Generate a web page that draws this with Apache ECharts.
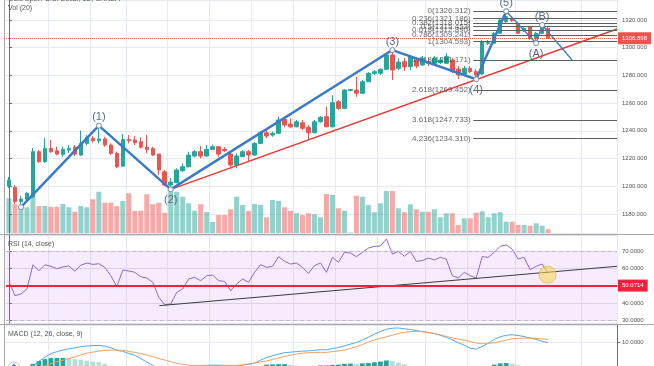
<!DOCTYPE html>
<html><head><meta charset="utf-8">
<script src="https://cdn.jsdelivr.net/npm/echarts@6/dist/echarts.min.js"></script>
<style>html,body{margin:0;padding:0;background:#fff}#c{width:654px;height:366px}</style>
</head><body><div id="c"></div>
<script>
// ---------- data ----------
const N_SLOTS = 102; // 91 daily bars + empty space on the right
const opens = [1200.1,1199.1,1188.8,1190.5,1192.4,1224.9,1217.7,1227.3,1225.6,1223.0,
1226.1,1228.1,1222.5,1230.9,1234.6,1232.8,1234.1,1229.7,1223.7,1214.5,
1233.8,1233.3,1232.1,1228.1,1227.3,1223.2,1210.4,1200.8,1202.5,1211.1,
1214.0,1221.8,1224.9,1221.8,1226.6,1228.5,1226.5,1223.2,1215.3,1221.3,
1224.9,1222.5,1230.9,1238.6,1236.9,1238.2,1248.3,1244.9,1242.9,1245.8,
1242.5,1238.6,1246.5,1250.2,1242.9,1261.0,1256.2,1269.1,1269.4,1267.1,
1275.4,1281.5,1281.5,1284.4,1294.7,1285.1,1289.9,1286.3,1291.1,1287.5,
1289.9,1288.7,1289.2,1288.7,1291.1,1284.6,1281.0,1285.1,1282.7,1281.0,
1303.0,1303.2,1310.4,1318.8,1321.2,1317.6,1312.3,1315.2,1306.8,1310.4,1314.0];
const closes = [1204.4,1188.8,1190.7,1194.8,1224.9,1217.7,1227.3,1224.9,1223.2,1226.6,
1227.3,1223.2,1230.9,1235.3,1232.8,1234.1,1229.7,1223.7,1214.0,1233.8,
1232.8,1231.4,1228.1,1226.6,1222.5,1211.7,1200.8,1203.0,1211.7,1214.0,
1222.5,1224.9,1221.8,1226.6,1228.5,1223.2,1225.7,1215.3,1221.8,1224.9,
1222.5,1230.9,1238.6,1236.2,1238.2,1247.8,1244.2,1242.9,1246.5,1241.8,
1238.6,1246.5,1249.7,1242.9,1260.3,1256.2,1269.4,1269.8,1267.1,1275.4,
1281.5,1282.7,1284.4,1294.7,1283.9,1289.7,1286.1,1293.5,1286.8,1292.3,
1288.7,1292.3,1291.1,1293.5,1282.7,1280.3,1285.1,1282.7,1280.3,1304.1,
1303.8,1310.4,1320.0,1322.4,1319.5,1310.4,1314.0,1306.8,1310.4,1315.7,1306.898];
const lows = [1198.6,1187.1,1185.0,1190.0,1191.4,1216.9,1216.9,1224.0,1222.3,1221.3,
1224.2,1221.8,1221.8,1229.7,1231.4,1230.9,1228.5,1222.5,1212.9,1214.0,
1230.9,1229.7,1227.3,1223.7,1221.8,1208.0,1200.1,1197.7,1202.1,1210.4,
1213.6,1220.8,1220.1,1221.3,1226.1,1221.3,1224.7,1214.0,1212.9,1221.1,
1217.7,1221.8,1230.4,1234.6,1235.7,1237.7,1242.5,1241.8,1242.5,1240.6,
1233.8,1238.2,1245.8,1242.5,1242.5,1255.0,1255.7,1268.7,1264.6,1266.6,
1275.2,1280.3,1280.3,1283.9,1276.7,1283.9,1283.2,1283.9,1285.3,1286.8,
1286.8,1287.5,1288.2,1288.2,1281.7,1277.4,1280.3,1281.7,1277.2,1280.3,
1302.0,1302.7,1309.9,1317.8,1318.6,1309.9,1311.3,1305.6,1303.2,1309.9,1306.3];
const highs = [1206.6,1200.8,1192.9,1196.0,1227.6,1226.1,1234.8,1233.3,1228.5,1228.5,
1229.7,1229.7,1240.1,1236.9,1236.2,1243.7,1235.7,1230.9,1224.9,1237.7,
1236.9,1236.2,1235.3,1236.9,1228.5,1223.7,1211.7,1205.9,1212.9,1216.5,
1224.9,1226.1,1229.0,1229.7,1230.1,1229.0,1228.3,1224.9,1223.7,1226.1,
1226.1,1231.9,1239.8,1240.6,1239.3,1250.2,1250.2,1249.0,1247.8,1247.8,
1244.2,1247.8,1250.7,1257.4,1265.8,1262.2,1270.2,1270.2,1279.0,1276.7,
1282.4,1283.9,1285.3,1295.9,1298.3,1292.6,1292.6,1294.7,1293.3,1294.0,
1292.6,1294.0,1292.6,1296.2,1292.6,1286.8,1286.8,1286.8,1284.6,1305.6,
1305.6,1311.3,1321.4,1326.3,1322.9,1318.6,1314.9,1315.7,1311.3,1316.4,1314.9];
// volume, thousands
const volumes = [139,115,103,103,145,108,108,105,105,116,103,85,108,103,135,165,121,121,108,128,
159,88,89,155,115,121,81,175,165,145,119,89,115,84,44,72,72,95,145,112,
88,116,112,63,132,128,103,89,79,72,79,75,63,156,152,99,89,2,149,145,
112,83,119,168,168,99,83,115,95,85,85,95,63,79,79,32,59,59,81,87,
63,79,83,45,45,32,32,29,39,29,15];
const rsi = [52.5,44.2,45.2,48.1,62.2,58.7,62.2,61.3,59.9,60.9,61.5,58.4,62.0,63.2,62.4,62.8,60.7,55.8,49.4,59.1,
58.6,57.8,55.2,54.5,52.0,43.2,39.0,39.4,46.1,48.1,53.9,54.9,52.9,55.8,56.2,52.9,52.5,47.1,51.0,53.9,
52.0,57.8,62.2,60.7,61.3,66.9,64.2,62.6,63.2,60.7,57.2,61.7,63.2,57.8,66.5,63.6,69.4,69.0,66.9,69.4,
71.9,72.9,73.1,77.2,68.4,70.0,67.1,70.0,64.2,64.6,66.1,65.0,66.5,65.5,55.8,54.5,57.8,55.8,54.5,66.9,
66.5,69.4,72.9,73.7,71.3,65.5,66.5,59.3,61.3,62.6,57.2];
const macdLine = [-1.5,-1.8,-1.6,-1.2,0.8,2.6,4.2,5.5,6.3,6.9,7.4,7.7,8.2,8.5,8.6,8.7,8.4,7.8,6.8,6.4,
5.6,4.9,3.6,2.3,0.9,0.2,-0.5,-0.9,-0.8,-0.4,0.2,0.6,0.8,1.0,1.1,1.1,1.0,0.9,0.9,1.1,
1.4,1.9,3.0,4.0,4.7,5.4,5.9,6.1,6.3,6.5,6.6,6.8,7.0,7.0,7.5,7.9,8.5,9.2,9.8,10.8,
11.9,13.0,14.0,14.9,15.3,15.4,15.1,14.8,14.4,14.0,13.6,13.2,12.6,11.8,10.8,9.7,8.8,7.6,7.3,8.3,
9.5,11.0,12.0,12.6,12.8,12.5,12.1,11.5,11.0,10.3,9.7];
const signalLine = [-1.0,-1.1,-1.2,-1.2,-0.8,-0.1,0.8,1.7,2.4,3.0,3.6,4.3,5.0,5.7,6.1,6.5,6.8,6.9,6.9,6.8,
6.4,6.0,5.6,5.0,4.4,3.6,3.1,2.4,1.8,1.4,1.1,1.0,1.0,1.0,1.0,1.0,1.0,1.0,1.0,1.2,
1.6,1.9,2.3,2.7,3.3,3.9,4.4,4.9,5.4,5.7,5.9,6.0,6.0,6.0,6.3,6.6,6.9,7.5,8.2,9.0,
10.0,10.8,11.5,12.0,12.6,13.3,13.7,14.0,14.1,14.0,13.7,13.3,12.8,12.1,11.6,11.1,10.7,10.2,9.6,9.3,
9.4,9.7,10.2,10.7,11.2,11.4,11.5,11.5,11.4,11.2,11.0];
// Elliott waves (bar index, price)
const waveIdx = [2, 15, 27, 64, 78, 83];
const waveVal = [1184.9, 1243.7, 1197.7, 1298.3, 1277.2, 1326.3];
const waveNames = ['', '(1)', '(2)', '(3)', '(4)', '(5)'];
const corrIdx = [83, 88, 89, 94];
const corrVal = [1326.3, 1303.2, 1316.4, 1291.1];
const corrNames = ['', '(A)', '(B)', '(C)'];
// Fibonacci retracement
const fibRatios = [0, 0.236, 0.382, 0.5, 0.618, 0.786, 1, 1.618, 2.618, 3.618, 4.236];
const fibPrices = [1326.312, 1321.186, 1318.015, 1315.453, 1312.890, 1309.241, 1304.593, 1291.171, 1269.452, 1247.733, 1234.310];
const fibFrom = 77.5, fibTo = 101.5;
// trend lines
const priceTrendX = [27, 101.5], priceTrendY = [1197.7, 1313.5];
const rsiTrendX = [25.1, 101.5], rsiTrendY = [38.4, 61.3];
const lastPrice = 1306.898;
const rsiLevel = 50.0714;
const rsiHighlight = [89.9, 56.4];
const gridBars = [7, 14, 20, 27, 34, 41, 48, 55, 62, 70, 77, 85, 96];

// ---------- build ----------
const UP = '#26a69a', DOWN = '#ef5350';
const slots = Array.from({length: N_SLOTS}, (_, i) => String(i));
const candleData = opens.map((o, i) => [o, closes[i], lows[i], highs[i]]);
const volData = volumes.map((v, i) => ({value: v, itemStyle: {color: closes[i] >= opens[i] ? 'rgba(38,166,154,0.5)' : 'rgba(239,83,80,0.5)'}}));
const hist = macdLine.map((m, i) => +(m - signalLine[i]).toFixed(2));
const histData = hist.map((h, i) => {
  const prev = i ? hist[i - 1] : 0;
  const c = h >= 0 ? (h >= prev ? '#26a69a' : '#b2dfdb') : (h <= prev ? '#ef5350' : '#ffcdd2');
  return {value: h, itemStyle: {color: c}};
});
function waveItems(idx, vals, names, lastNoSymbol) {
  return idx.map((x, i) => {
    const up = i > 0 && vals[i] > vals[i - 1];
    const it = {value: [x, vals[i]], label: {show: names[i] !== '', formatter: names[i], position: up ? 'top' : 'bottom', distance: up ? 0 : 2}};
    if (lastNoSymbol && i === idx.length - 1) it.symbol = 'none';
    return it;
  });
}
const FONT = 'Liberation Sans';
const GRID_C = '#e5e9f0';
const gridLine = {show: true, interval: (i) => gridBars.indexOf(i) >= 0, lineStyle: {color: GRID_C, width: 1}};
const catAxis = (g) => ({type: 'category', gridIndex: g, data: slots, boundaryGap: true, axisLabel: {show: false}, axisTick: {show: false}, axisLine: {show: false}, splitLine: gridLine});
const valX = (g) => ({type: 'value', gridIndex: g, min: -0.5, max: N_SLOTS - 0.5, show: false});
const axisTxt = {fontSize: 6, color: '#555', fontFamily: FONT, margin: 5, showMinLabel: false, showMaxLabel: false};
const yLine = {show: true, lineStyle: {color: '#6b6b6b', width: 1}};
const yTick = {show: true, length: 3, lineStyle: {color: '#6b6b6b'}};

const option = {
  animation: false,
  backgroundColor: '#ffffff',
  grid: [
    {left: 6, right: 37, top: 0, height: 233},
    {left: 6, right: 37, top: 235, height: 88},
    {left: 6, right: 37, top: 325, height: 41}
  ],
  xAxis: [catAxis(0), valX(0), catAxis(1), valX(1), catAxis(2)],
  yAxis: [
    {type: 'value', gridIndex: 0, position: 'right', min: 1166.2, max: 1334.45, splitNumber: 8,
     axisLabel: Object.assign({}, axisTxt, {formatter: v => v.toFixed(3)}), axisLine: yLine, axisTick: yTick,
     splitLine: {show: true, lineStyle: {color: GRID_C}}},
    {type: 'value', gridIndex: 0, min: 0, max: 932, show: false},
    {type: 'value', gridIndex: 1, position: 'right', min: 28.3, max: 79.5, splitNumber: 5,
     axisLabel: Object.assign({}, axisTxt, {formatter: v => Math.abs(v - 50) < 1e-6 ? '' : v.toFixed(4)}), axisLine: yLine, axisTick: yTick,
     splitLine: {show: true, lineStyle: {color: '#e6ddf0'}}},
    {type: 'value', gridIndex: 2, position: 'right', min: 0.77, max: 16.54, splitNumber: 2,
     axisLabel: Object.assign({}, axisTxt, {formatter: v => v.toFixed(4)}), axisLine: yLine, axisTick: yTick,
     splitLine: {show: true, lineStyle: {color: GRID_C}}}
  ],
  series: [
    {type: 'bar', xAxisIndex: 0, yAxisIndex: 1, data: volData, barWidth: '84%', z: 1, silent: true},
    {type: 'candlestick', xAxisIndex: 0, yAxisIndex: 0, data: candleData, barWidth: 4, z: 3,
     itemStyle: {color: UP, color0: DOWN, borderColor: UP, borderColor0: DOWN, borderWidth: 1},
     markLine: {silent: true, symbol: ['none', 'none'], data: [{yAxis: lastPrice}],
       lineStyle: {color: '#ef5350', type: 'dotted', width: 1},
       label: {show: true, position: 'end', formatter: lastPrice.toFixed(3), color: '#fff', backgroundColor: '#ef5350', fontSize: 6, fontFamily: FONT, padding: [3, 4], distance: 1}}},
    {type: 'line', xAxisIndex: 1, yAxisIndex: 0, data: priceTrendX.map((x, i) => [x, priceTrendY[i]]), symbol: 'none',
     lineStyle: {color: '#e53935', width: 1.5}, z: 4, silent: true},
    {type: 'scatter', xAxisIndex: 1, yAxisIndex: 0, symbolSize: 1, itemStyle: {color: 'transparent'}, z: 4, silent: true,
     data: fibPrices.map((p, i) => ({value: [fibFrom, p], label: {formatter: fibRatios[i] + '(' + p.toFixed(3) + ')'}})),
     label: {show: true, position: 'left', distance: 2, fontSize: 8, color: '#444', fontFamily: FONT},
     markLine: {silent: true, symbol: ['none', 'none'], label: {show: false}, lineStyle: {color: '#5f5f5f', width: 1, type: 'solid'},
       data: fibPrices.map(p => [{coord: [fibFrom, p]}, {coord: [fibTo, p]}])}},
    {type: 'line', xAxisIndex: 1, yAxisIndex: 0, data: waveItems(waveIdx, waveVal, waveNames, false), symbol: 'circle', symbolSize: 5, showAllSymbol: true,
     lineStyle: {color: '#3b7bc4', width: 2.5}, itemStyle: {color: '#ffffff', borderColor: '#7d8ca5', borderWidth: 1},
     label: {fontSize: 11, color: '#5b6a82', fontFamily: FONT}, z: 6, silent: true},
    {type: 'line', xAxisIndex: 1, yAxisIndex: 0, data: waveItems(corrIdx, corrVal, corrNames, true), symbol: 'circle', symbolSize: 5, showAllSymbol: true,
     lineStyle: {color: '#3b7bc4', width: 1.3}, itemStyle: {color: '#ffffff', borderColor: '#7d8ca5', borderWidth: 1},
     label: {fontSize: 11, color: '#5b6a82', fontFamily: FONT}, z: 6, silent: true},
    {type: 'line', xAxisIndex: 2, yAxisIndex: 2, data: rsi, symbol: 'none', lineStyle: {color: '#9068c8', width: 1}, z: 3, silent: true,
     markArea: {silent: true, itemStyle: {color: 'rgba(178,102,240,0.12)'}, data: [[{yAxis: 70}, {yAxis: 30}]]},
     markLine: {silent: true, symbol: ['none', 'none'], label: {show: false},
       data: [
         {yAxis: 70, lineStyle: {color: '#c3b3d6', type: [4, 3], width: 1}},
         {yAxis: 30, lineStyle: {color: '#c3b3d6', type: [4, 3], width: 1}},
         {yAxis: rsiLevel, lineStyle: {color: '#f2203f', width: 2, type: 'solid'},
          label: {show: true, position: 'end', formatter: rsiLevel.toFixed(4), color: '#fff', backgroundColor: '#f2203f', fontSize: 6, fontFamily: FONT, padding: [3, 4], distance: 1}}
       ]}},
    {type: 'line', xAxisIndex: 3, yAxisIndex: 2, data: rsiTrendX.map((x, i) => [x, rsiTrendY[i]]), symbol: 'none',
     lineStyle: {color: '#3c3c3c', width: 1}, z: 4, silent: true},
    {type: 'scatter', xAxisIndex: 3, yAxisIndex: 2, data: [rsiHighlight], symbolSize: 17, z: 5, silent: true,
     itemStyle: {color: 'rgba(250,214,80,0.7)', borderColor: '#dcb848', borderWidth: 1}},
    {type: 'bar', xAxisIndex: 4, yAxisIndex: 3, data: histData, barWidth: '80%', z: 2, silent: true},
    {type: 'line', xAxisIndex: 4, yAxisIndex: 3, data: macdLine, symbol: 'none', lineStyle: {color: '#4ea9f0', width: 1}, z: 3, silent: true},
    {type: 'line', xAxisIndex: 4, yAxisIndex: 3, data: signalLine, symbol: 'none', lineStyle: {color: '#f7a05e', width: 1}, z: 3, silent: true}
  ],
  graphic: [
    {type: 'line', shape: {x1: 4.5, y1: 0, x2: 4.5, y2: 366}, style: {stroke: '#a6a6a6', lineWidth: 1}, z: 50},
    {type: 'line', shape: {x1: 0, y1: 234.5, x2: 654, y2: 234.5}, style: {stroke: '#a6a6a6', lineWidth: 1}, z: 50},
    {type: 'line', shape: {x1: 0, y1: 324.5, x2: 654, y2: 324.5}, style: {stroke: '#a6a6a6', lineWidth: 1}, z: 50},
    {type: 'text', x: 8, y: -1, z: 50, style: {text: 'Gold Spot / U.S. Dollar, 1D, OANDA', font: '7px "Liberation Sans"', fill: '#555', verticalAlign: 'middle'}},
    {type: 'text', x: 8, y: 8, z: 50, style: {text: 'Vol (20)', font: '7px "Liberation Sans"', fill: '#555', verticalAlign: 'middle'}},
    {type: 'text', x: 8, y: 244, z: 50, style: {text: 'RSI (14, close)', font: '7px "Liberation Sans"', fill: '#555', verticalAlign: 'middle'}},
    {type: 'text', x: 8, y: 334, z: 50, style: {text: 'MACD (12, 26, close, 9)', font: '7px "Liberation Sans"', fill: '#555', verticalAlign: 'middle'}},
    {type: 'circle', shape: {cx: 14, cy: 368, r: 6}, style: {fill: '#ffffff', stroke: '#b9c6dc', lineWidth: 1}, z: 50},
    {type: 'polyline', shape: {points: [[11.5, 367], [14, 364.5], [16.5, 367]]}, style: {stroke: '#2962ff', fill: null, lineWidth: 1.2}, z: 51}
  ]
};
const chart = echarts.init(document.getElementById('c'), null, {renderer: 'canvas'});
chart.setOption(option);
</script>
</body></html>
